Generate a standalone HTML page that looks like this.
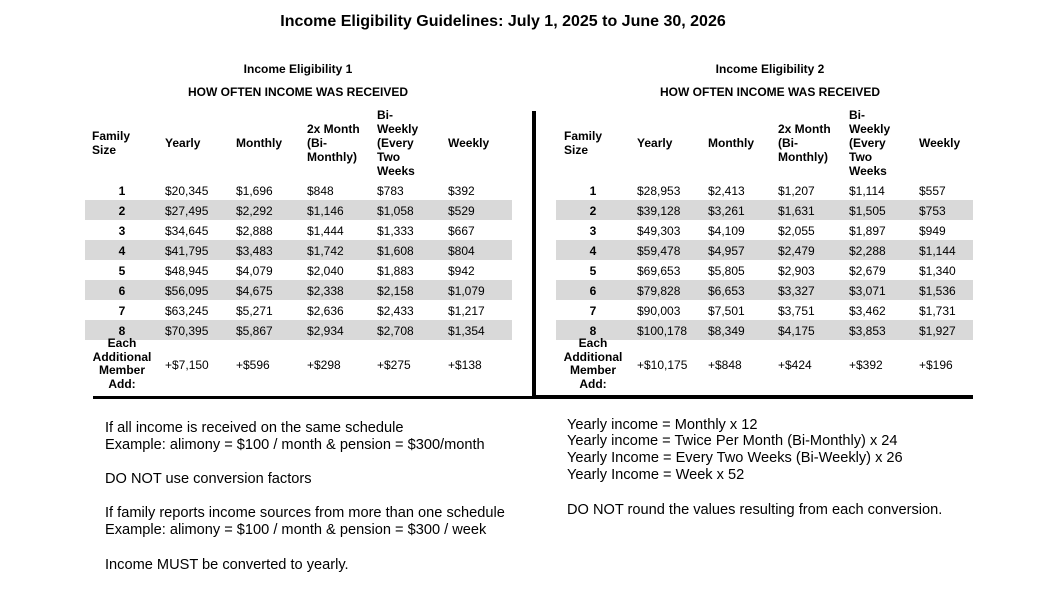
<!DOCTYPE html>
<html><head><meta charset="utf-8"><style>
body{margin:0;width:1049px;height:589px;background:#fff;position:relative;overflow:hidden;font-family:"Liberation Sans",Arial,sans-serif;color:#000}
div{position:absolute;white-space:nowrap}
.t{font-size:12px;line-height:14px}
.b{font-weight:bold}
.c{transform:translateX(-50%);text-align:center}
.g{background:#d9d9d9;height:20px}
.p{font-size:14.6px;line-height:17px}
</style></head><body>
<div class="b c" style="left:503px;top:13px;font-size:16px">Income Eligibility Guidelines: July 1, 2025 to June 30, 2026</div>
<div class="t b c" style="left:298px;top:62px">Income Eligibility 1</div>
<div class="t b c" style="left:298px;top:85px">HOW OFTEN INCOME WAS RECEIVED</div>
<div class="t b c" style="left:770px;top:62px">Income Eligibility 2</div>
<div class="t b c" style="left:770px;top:85px">HOW OFTEN INCOME WAS RECEIVED</div>

<div class="g" style="left:85px;top:200px;width:427px"></div>
<div class="g" style="left:85px;top:240px;width:427px"></div>
<div class="g" style="left:85px;top:280px;width:427px"></div>
<div class="g" style="left:85px;top:320px;width:427px"></div>
<div class="g" style="left:556px;top:200px;width:417px"></div>
<div class="g" style="left:556px;top:240px;width:417px"></div>
<div class="g" style="left:556px;top:280px;width:417px"></div>
<div class="g" style="left:556px;top:320px;width:417px"></div>

<div style="left:532px;top:111px;width:4px;height:288px;background:#000"></div>
<div style="left:93px;top:396px;width:442px;height:3px;background:#000"></div>
<div style="left:535px;top:395px;width:438px;height:4px;background:#000"></div>

<div class="t b" style="left:92px;top:129px">Family<br>Size</div>
<div class="t b" style="left:165px;top:136px">Yearly</div>
<div class="t b" style="left:236px;top:136px">Monthly</div>
<div class="t b" style="left:307px;top:122px">2x Month<br>(Bi-<br>Monthly)</div>
<div class="t b" style="left:377px;top:108px">Bi-<br>Weekly<br>(Every<br>Two<br>Weeks</div>
<div class="t b" style="left:448px;top:136px">Weekly</div>
<div class="t b" style="left:564px;top:129px">Family<br>Size</div>
<div class="t b" style="left:637px;top:136px">Yearly</div>
<div class="t b" style="left:708px;top:136px">Monthly</div>
<div class="t b" style="left:778px;top:122px">2x Month<br>(Bi-<br>Monthly)</div>
<div class="t b" style="left:849px;top:108px">Bi-<br>Weekly<br>(Every<br>Two<br>Weeks</div>
<div class="t b" style="left:919px;top:136px">Weekly</div>

<div class="t b c" style="left:122px;top:181px;line-height:20px">1<br>2<br>3<br>4<br>5<br>6<br>7<br>8</div>
<div class="t" style="left:165px;top:181px;line-height:20px">$20,345<br>$27,495<br>$34,645<br>$41,795<br>$48,945<br>$56,095<br>$63,245<br>$70,395</div>
<div class="t" style="left:236px;top:181px;line-height:20px">$1,696<br>$2,292<br>$2,888<br>$3,483<br>$4,079<br>$4,675<br>$5,271<br>$5,867</div>
<div class="t" style="left:307px;top:181px;line-height:20px">$848<br>$1,146<br>$1,444<br>$1,742<br>$2,040<br>$2,338<br>$2,636<br>$2,934</div>
<div class="t" style="left:377px;top:181px;line-height:20px">$783<br>$1,058<br>$1,333<br>$1,608<br>$1,883<br>$2,158<br>$2,433<br>$2,708</div>
<div class="t" style="left:448px;top:181px;line-height:20px">$392<br>$529<br>$667<br>$804<br>$942<br>$1,079<br>$1,217<br>$1,354</div>
<div class="t b c" style="left:122px;top:337px;line-height:13.5px">Each<br>Additional<br>Member<br>Add:</div>
<div class="t" style="left:165px;top:358px">+$7,150</div>
<div class="t" style="left:236px;top:358px">+$596</div>
<div class="t" style="left:307px;top:358px">+$298</div>
<div class="t" style="left:377px;top:358px">+$275</div>
<div class="t" style="left:448px;top:358px">+$138</div>

<div class="t b c" style="left:593px;top:181px;line-height:20px">1<br>2<br>3<br>4<br>5<br>6<br>7<br>8</div>
<div class="t" style="left:637px;top:181px;line-height:20px">$28,953<br>$39,128<br>$49,303<br>$59,478<br>$69,653<br>$79,828<br>$90,003<br>$100,178</div>
<div class="t" style="left:708px;top:181px;line-height:20px">$2,413<br>$3,261<br>$4,109<br>$4,957<br>$5,805<br>$6,653<br>$7,501<br>$8,349</div>
<div class="t" style="left:778px;top:181px;line-height:20px">$1,207<br>$1,631<br>$2,055<br>$2,479<br>$2,903<br>$3,327<br>$3,751<br>$4,175</div>
<div class="t" style="left:849px;top:181px;line-height:20px">$1,114<br>$1,505<br>$1,897<br>$2,288<br>$2,679<br>$3,071<br>$3,462<br>$3,853</div>
<div class="t" style="left:919px;top:181px;line-height:20px">$557<br>$753<br>$949<br>$1,144<br>$1,340<br>$1,536<br>$1,731<br>$1,927</div>
<div class="t b c" style="left:593px;top:337px;line-height:13.5px">Each<br>Additional<br>Member<br>Add:</div>
<div class="t" style="left:637px;top:358px">+$10,175</div>
<div class="t" style="left:708px;top:358px">+$848</div>
<div class="t" style="left:778px;top:358px">+$424</div>
<div class="t" style="left:849px;top:358px">+$392</div>
<div class="t" style="left:919px;top:358px">+$196</div>

<div class="p" style="left:105px;top:420px">If all income is received on the same schedule</div>
<div class="p" style="left:105px;top:437px">Example: alimony = $100 / month &amp; pension = $300/month</div>
<div class="p" style="left:105px;top:471px">DO NOT use conversion factors</div>
<div class="p" style="left:105px;top:505px">If family reports income sources from more than one schedule</div>
<div class="p" style="left:105px;top:522px">Example: alimony = $100 / month &amp; pension = $300 / week</div>
<div class="p" style="left:105px;top:557px">Income MUST be converted to yearly.</div>

<div class="p" style="left:567px;top:417px">Yearly income = Monthly x 12</div>
<div class="p" style="left:567px;top:433px">Yearly income = Twice Per Month (Bi-Monthly) x 24</div>
<div class="p" style="left:567px;top:450px">Yearly Income = Every Two Weeks (Bi-Weekly) x 26</div>
<div class="p" style="left:567px;top:467px">Yearly Income = Week x 52</div>
<div class="p" style="left:567px;top:502px">DO NOT round the values resulting from each conversion.</div>
</body></html>
